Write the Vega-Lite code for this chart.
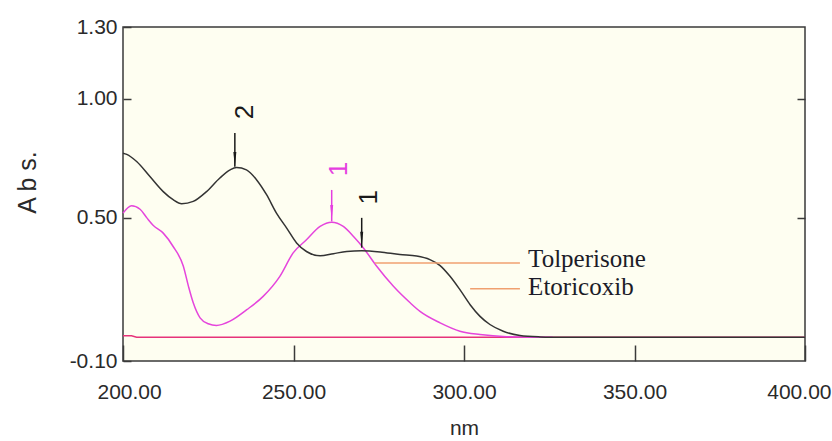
{
  "$schema": "https://vega.github.io/schema/vega-lite/v6.json",
  "width": 682,
  "height": 334,
  "autosize": "none",
  "padding": {"left": 123, "top": 27, "right": 27, "bottom": 80},
  "background": "white",
  "config": {
    "view": {"fill": "#fefef1", "stroke": "#3a3a3a", "strokeWidth": 1.5},
    "axis": {
      "domain": false,
      "grid": false,
      "labelFont": "Liberation Sans, Arial, sans-serif",
      "labelFontSize": 21,
      "labelColor": "#2a2a2a",
      "tickColor": "#3a3a3a",
      "tickWidth": 1.5,
      "titleFont": "Liberation Sans, Arial, sans-serif",
      "titleFontWeight": "normal",
      "titleColor": "#2a2a2a"
    }
  },
  "datasets": {
    "curves": [
      {"s": "base", "nm": 200, "abs": 0.006},
      {"s": "base", "nm": 202.5, "abs": 0.006},
      {"s": "base", "nm": 204, "abs": 0.0},
      {"s": "base", "nm": 400, "abs": 0.0},
      {"s": "pink", "nm": 200, "abs": 0.52},
      {"s": "pink", "nm": 202.5, "abs": 0.551},
      {"s": "pink", "nm": 205, "abs": 0.536},
      {"s": "pink", "nm": 207, "abs": 0.5},
      {"s": "pink", "nm": 208.9, "abs": 0.468},
      {"s": "pink", "nm": 211.8, "abs": 0.436},
      {"s": "pink", "nm": 214.7, "abs": 0.38},
      {"s": "pink", "nm": 217.7, "abs": 0.297},
      {"s": "pink", "nm": 219.2, "abs": 0.213},
      {"s": "pink", "nm": 220.6, "abs": 0.144},
      {"s": "pink", "nm": 222.6, "abs": 0.081},
      {"s": "pink", "nm": 225, "abs": 0.056},
      {"s": "pink", "nm": 227.4, "abs": 0.049},
      {"s": "pink", "nm": 231.4, "abs": 0.067},
      {"s": "pink", "nm": 236.3, "abs": 0.115},
      {"s": "pink", "nm": 241.1, "abs": 0.171},
      {"s": "pink", "nm": 246.0, "abs": 0.255},
      {"s": "pink", "nm": 249.9, "abs": 0.353},
      {"s": "pink", "nm": 253.8, "abs": 0.408},
      {"s": "pink", "nm": 257.8, "abs": 0.464},
      {"s": "pink", "nm": 261.2, "abs": 0.482},
      {"s": "pink", "nm": 264.6, "abs": 0.464},
      {"s": "pink", "nm": 267.6, "abs": 0.422},
      {"s": "pink", "nm": 270.5, "abs": 0.374},
      {"s": "pink", "nm": 274.4, "abs": 0.297},
      {"s": "pink", "nm": 279.3, "abs": 0.213},
      {"s": "pink", "nm": 284.2, "abs": 0.144},
      {"s": "pink", "nm": 287.1, "abs": 0.108},
      {"s": "pink", "nm": 293, "abs": 0.06},
      {"s": "pink", "nm": 298.8, "abs": 0.025},
      {"s": "pink", "nm": 304.7, "abs": 0.011},
      {"s": "pink", "nm": 312.5, "abs": 0.002},
      {"s": "pink", "nm": 320, "abs": 0.0},
      {"s": "pink", "nm": 326, "abs": 0.0},
      {"s": "black", "nm": 200, "abs": 0.771},
      {"s": "black", "nm": 201.1, "abs": 0.766},
      {"s": "black", "nm": 204, "abs": 0.736},
      {"s": "black", "nm": 207.9, "abs": 0.673},
      {"s": "black", "nm": 211.8, "abs": 0.61},
      {"s": "black", "nm": 214.7, "abs": 0.576},
      {"s": "black", "nm": 217.2, "abs": 0.559},
      {"s": "black", "nm": 220.6, "abs": 0.569},
      {"s": "black", "nm": 224.5, "abs": 0.61},
      {"s": "black", "nm": 228.4, "abs": 0.667},
      {"s": "black", "nm": 231.4, "abs": 0.701},
      {"s": "black", "nm": 233.3, "abs": 0.711},
      {"s": "black", "nm": 236.2, "abs": 0.701},
      {"s": "black", "nm": 239.2, "abs": 0.659},
      {"s": "black", "nm": 242.1, "abs": 0.597},
      {"s": "black", "nm": 245.0, "abs": 0.52},
      {"s": "black", "nm": 248.0, "abs": 0.457},
      {"s": "black", "nm": 250.9, "abs": 0.395},
      {"s": "black", "nm": 253.8, "abs": 0.359},
      {"s": "black", "nm": 257.8, "abs": 0.341},
      {"s": "black", "nm": 261.7, "abs": 0.35},
      {"s": "black", "nm": 265.6, "abs": 0.359},
      {"s": "black", "nm": 270, "abs": 0.362},
      {"s": "black", "nm": 275.4, "abs": 0.357},
      {"s": "black", "nm": 281.2, "abs": 0.346},
      {"s": "black", "nm": 286.1, "abs": 0.34},
      {"s": "black", "nm": 290, "abs": 0.325},
      {"s": "black", "nm": 293, "abs": 0.3},
      {"s": "black", "nm": 295.9, "abs": 0.255},
      {"s": "black", "nm": 298.8, "abs": 0.199},
      {"s": "black", "nm": 301.8, "abs": 0.136},
      {"s": "black", "nm": 304.7, "abs": 0.087},
      {"s": "black", "nm": 307.6, "abs": 0.053},
      {"s": "black", "nm": 311.5, "abs": 0.025},
      {"s": "black", "nm": 316.4, "abs": 0.007},
      {"s": "black", "nm": 322.3, "abs": 0.001},
      {"s": "black", "nm": 325, "abs": 0.0},
      {"s": "black", "nm": 400, "abs": 0.0}
    ],
    "arrows": [
      {"c": "black", "nm": 232.8, "abs": 0.856, "abs2": 0.714, "head": 0.745, "lbl": "2", "lnm": 235.9, "labs": 0.944},
      {"c": "pink", "nm": 261.2, "abs": 0.617, "abs2": 0.485, "head": 0.522, "lbl": "1", "lnm": 263.3, "labs": 0.705},
      {"c": "black", "nm": 270.0, "abs": 0.5, "abs2": 0.375, "head": 0.41, "lbl": "1", "lnm": 272.1, "labs": 0.586}
    ],
    "leaders": [
      {"name": "Tolperisone", "nm": 273.9, "nm2": 316.4, "abs": 0.311, "tnm": 318.8, "tabs": 0.295},
      {"name": "Etoricoxib", "nm": 301.8, "nm2": 316.4, "abs": 0.203, "tnm": 318.8, "tabs": 0.178}
    ]
  },
  "layer": [
    {
      "data": {"name": "curves"},
      "transform": [{"filter": "datum.s === 'base'"}],
      "mark": {"type": "line", "color": "#e6337a", "strokeWidth": 1.5},
      "encoding": {
        "x": {"field": "nm", "type": "quantitative", "scale": {"domain": [200, 400], "nice": false, "zero": false},
          "axis": {"values": [200, 250, 300, 350, 400], "format": ".2f", "tickSize": -16, "labelPadding": 36, "title": "nm", "titleFontSize": 21, "titlePadding": 15, "labelFlush": true, "labelFlushOffset": 26}},
        "y": {"field": "abs", "type": "quantitative", "scale": {"domain": [-0.1, 1.3], "nice": false, "zero": false},
          "axis": {"values": [-0.1, 0.5, 1.0, 1.3], "labelExpr": "datum.value < 0 ? '-' + format(-datum.value, '.2f') : format(datum.value, '.2f')", "tickSize": -8, "labelPadding": 14, "title": "A b s.", "titleFontSize": 25, "titleX": -83, "titleY": 155, "labelFlush": false}}
      }
    },
    {
      "data": {"name": "curves"},
      "transform": [{"filter": "datum.s === 'base'"}],
      "mark": {"type": "line", "opacity": 0},
      "encoding": {
        "x": {"field": "nm", "type": "quantitative"},
        "y": {"field": "abs", "type": "quantitative",
          "axis": {"orient": "right", "values": [0.5, 1.0], "labels": false, "tickSize": -8, "title": null}}
      }
    },
    {
      "data": {"name": "curves"},
      "transform": [{"filter": "datum.s === 'pink'"}],
      "mark": {"type": "line", "color": "#e545dc", "strokeWidth": 1.5, "interpolate": "monotone"},
      "encoding": {
        "x": {"field": "nm", "type": "quantitative"},
        "y": {"field": "abs", "type": "quantitative", "axis": null}
      }
    },
    {
      "data": {"name": "curves"},
      "transform": [{"filter": "datum.s === 'black'"}],
      "mark": {"type": "line", "color": "#333333", "strokeWidth": 1.5, "interpolate": "monotone"},
      "encoding": {
        "x": {"field": "nm", "type": "quantitative"},
        "y": {"field": "abs", "type": "quantitative", "axis": null}
      }
    },
    {
      "data": {"name": "leaders"},
      "mark": {"type": "rule", "color": "#f0a070", "strokeWidth": 1.5},
      "encoding": {
        "x": {"field": "nm", "type": "quantitative"},
        "x2": {"field": "nm2"},
        "y": {"field": "abs", "type": "quantitative", "axis": null}
      }
    },
    {
      "data": {"name": "leaders"},
      "mark": {"type": "text", "font": "Liberation Serif, Times New Roman, serif", "fontSize": 25, "align": "left", "baseline": "alphabetic", "color": "#1c1c28"},
      "encoding": {
        "x": {"field": "tnm", "type": "quantitative"},
        "y": {"field": "tabs", "type": "quantitative", "axis": null},
        "text": {"field": "name"}
      }
    },
    {
      "data": {"name": "arrows"},
      "mark": {"type": "rule", "strokeWidth": 1.5},
      "encoding": {
        "x": {"field": "nm", "type": "quantitative"},
        "y": {"field": "abs", "type": "quantitative", "axis": null},
        "y2": {"field": "abs2"},
        "color": {"field": "c", "type": "nominal", "scale": {"domain": ["black", "pink"], "range": ["#1a1a1a", "#e53ee0"]}, "legend": null}
      }
    },
    {
      "data": {"name": "arrows"},
      "mark": {"type": "point", "shape": "M-0.2,-1L0.2,-1L0,1Z", "filled": true, "size": 225, "opacity": 1},
      "encoding": {
        "x": {"field": "nm", "type": "quantitative"},
        "y": {"field": "head", "type": "quantitative", "axis": null},
        "color": {"field": "c", "type": "nominal", "legend": null}
      }
    },
    {
      "data": {"name": "arrows"},
      "mark": {"type": "text", "angle": 270, "align": "center", "baseline": "middle", "fontSize": 26, "font": "Liberation Sans, Arial, sans-serif"},
      "encoding": {
        "x": {"field": "lnm", "type": "quantitative"},
        "y": {"field": "labs", "type": "quantitative", "axis": null},
        "text": {"field": "lbl"},
        "color": {"field": "c", "type": "nominal", "legend": null}
      }
    }
  ],
  "resolve": {"axis": {"y": "independent"}}
}
